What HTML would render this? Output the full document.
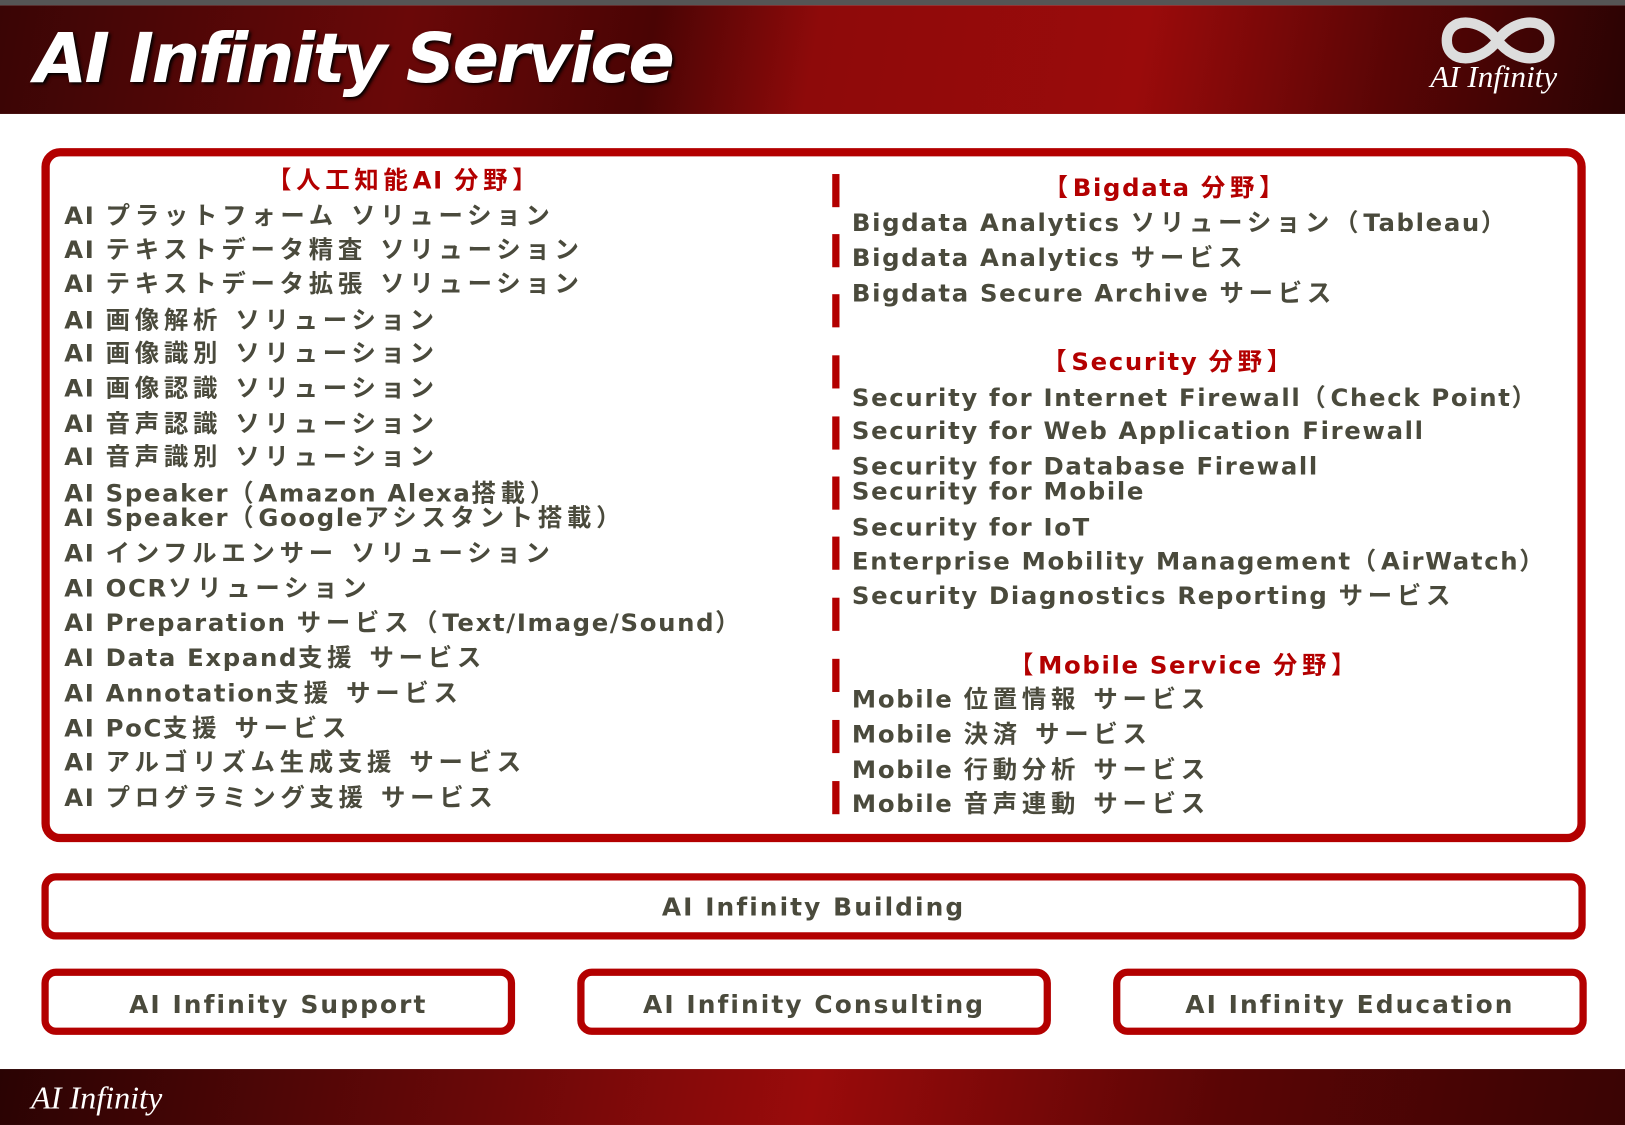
<!DOCTYPE html>
<html><head><meta charset="utf-8">
<style>
html,body{margin:0;padding:0;background:#fff;overflow:hidden}
#w{position:absolute;left:0;top:0;width:1568px;height:1086px;transform:scale(1.0364,1.0359);transform-origin:0 0;font-family:"DejaVu Sans","Noto Sans CJK JP",sans-serif}
.hdr{position:absolute;left:0;top:0;width:1568px;height:110px;background:linear-gradient(100deg,#3a0505 0%,#6a0808 25%,#4a0404 40%,#8e0a0a 50%,#9a0b0b 70%,#5a0505 85%,#2a0303 100%);border-top:5px solid #555;box-sizing:border-box}
.title{position:absolute;left:33px;top:18px;color:#fff;font:italic bold 66px "DejaVu Sans",sans-serif;letter-spacing:-2.5px;text-shadow:2px 2px 3px #000}
.logo{position:absolute;left:1380px;top:58px;color:#fff;font:italic 30px "Liberation Serif",serif}
.ftr{position:absolute;left:0;top:1032px;width:1568px;height:54px;background:linear-gradient(100deg,#2a0303,#6a0808 30%,#9a0b0b 50%,#5a0505 75%,#3a0404)}
.ftr span{position:absolute;left:30px;top:10px;color:#fff;font:italic 31px "Liberation Serif",serif}
.box{position:absolute;border:8px solid #b30000;border-radius:18px;box-sizing:border-box;background:#fff}
.t{position:absolute;white-space:nowrap;font-weight:bold;font-size:23.5px;color:#4a4a3c;letter-spacing:1.6px;line-height:30px;transform:translateY(-15px)}
.t j,.h j{letter-spacing:4.6px}
.h{color:#b30000;text-align:center;transform:translate(-50%,-15px)}
.bar{position:absolute;left:803px;width:7px;height:32px;background:#b30000}
.c{position:absolute;left:0;right:0;text-align:center;font-weight:bold;font-size:24px;color:#4a4a3c;letter-spacing:2px}
</style></head><body><div id="w">
<div class="hdr"></div>
<div class="title">AI Infinity Service</div>
<svg style="position:absolute;left:1388px;top:14px" width="115" height="50" viewBox="0 0 115 50"><path d="M57 25 C40 2 8 2 8 25 C8 48 40 48 57 25 C74 2 107 2 107 25 C107 48 74 48 57 25Z" fill="none" stroke="#ddd" stroke-width="10"/></svg>
<div class="logo">AI Infinity</div>

<div class="box" style="left:40px;top:143px;width:1490px;height:670px"></div>

<div class="t h" style="left:390px;top:174px"><j>【人工知能</j>AI <j>分野】</j></div>
<div class="t" style="left:62px;top:208px">AI <j>プラットフォーム ソリューション</j></div>
<div class="t" style="left:62px;top:241px">AI <j>テキストデータ精査 ソリューション</j></div>
<div class="t" style="left:62px;top:274px">AI <j>テキストデータ拡張 ソリューション</j></div>
<div class="t" style="left:62px;top:309px">AI <j>画像解析 ソリューション</j></div>
<div class="t" style="left:62px;top:341px">AI <j>画像識別 ソリューション</j></div>
<div class="t" style="left:62px;top:375px">AI <j>画像認識 ソリューション</j></div>
<div class="t" style="left:62px;top:409px">AI <j>音声認識 ソリューション</j></div>
<div class="t" style="left:62px;top:441px">AI <j>音声識別 ソリューション</j></div>
<div class="t" style="left:62px;top:476px">AI Speaker<j>（</j>Amazon Alexa<j>搭載）</j></div>
<div class="t" style="left:62px;top:500px">AI Speaker<j>（</j>Google<j>アシスタント搭載）</j></div>
<div class="t" style="left:62px;top:534px">AI <j>インフルエンサー ソリューション</j></div>
<div class="t" style="left:62px;top:568px">AI OCR<j>ソリューション</j></div>
<div class="t" style="left:62px;top:601px">AI Preparation <j>サービス（</j>Text/Image/Sound<j>）</j></div>
<div class="t" style="left:62px;top:635px">AI Data Expand<j>支援 サービス</j></div>
<div class="t" style="left:62px;top:669px">AI Annotation<j>支援 サービス</j></div>
<div class="t" style="left:62px;top:703px">AI PoC<j>支援 サービス</j></div>
<div class="t" style="left:62px;top:736px">AI <j>アルゴリズム生成支援 サービス</j></div>
<div class="t" style="left:62px;top:770px">AI <j>プログラミング支援 サービス</j></div>

<div class="bar" style="top:168px"></div><div class="bar" style="top:226px"></div><div class="bar" style="top:284px"></div><div class="bar" style="top:343px"></div><div class="bar" style="top:402px"></div><div class="bar" style="top:460px"></div><div class="bar" style="top:518px"></div><div class="bar" style="top:577px"></div><div class="bar" style="top:636px"></div><div class="bar" style="top:695px"></div><div class="bar" style="top:754px"></div>

<div class="t h" style="left:1125px;top:181px"><j>【</j>Bigdata <j>分野】</j></div>
<div class="t" style="left:822px;top:215px">Bigdata Analytics <j>ソリューション（</j>Tableau<j>）</j></div>
<div class="t" style="left:822px;top:249px">Bigdata Analytics <j>サービス</j></div>
<div class="t" style="left:822px;top:283px">Bigdata Secure Archive <j>サービス</j></div>
<div class="t h" style="left:1128px;top:349px"><j>【</j>Security <j>分野】</j></div>
<div class="t" style="left:822px;top:384px">Security for Internet Firewall<j>（</j>Check Point<j>）</j></div>
<div class="t" style="left:822px;top:416px">Security for Web Application Firewall</div>
<div class="t" style="left:822px;top:450px">Security for Database Firewall</div>
<div class="t" style="left:822px;top:474px">Security for Mobile</div>
<div class="t" style="left:822px;top:509px">Security for IoT</div>
<div class="t" style="left:822px;top:542px">Enterprise Mobility Management<j>（</j>AirWatch<j>）</j></div>
<div class="t" style="left:822px;top:575px">Security Diagnostics Reporting <j>サービス</j></div>
<div class="t h" style="left:1143px;top:642px"><j>【</j>Mobile Service <j>分野】</j></div>
<div class="t" style="left:822px;top:675px">Mobile <j>位置情報 サービス</j></div>
<div class="t" style="left:822px;top:709px">Mobile <j>決済 サービス</j></div>
<div class="t" style="left:822px;top:743px">Mobile <j>行動分析 サービス</j></div>
<div class="t" style="left:822px;top:776px">Mobile <j>音声連動 サービス</j></div>

<div class="box" style="left:40px;top:843px;width:1490px;height:64px;border-width:7px;border-radius:14px"><div class="c" style="top:12px">AI Infinity Building</div></div>
<div class="box" style="left:40px;top:935px;width:457px;height:64px;border-width:7px;border-radius:14px"><div class="c" style="top:14px">AI Infinity Support</div></div>
<div class="box" style="left:557px;top:935px;width:457px;height:64px;border-width:7px;border-radius:14px"><div class="c" style="top:14px">AI Infinity Consulting</div></div>
<div class="box" style="left:1074px;top:935px;width:457px;height:64px;border-width:7px;border-radius:14px"><div class="c" style="top:14px">AI Infinity Education</div></div>

<div class="ftr"><span>AI Infinity</span></div>
</div></body></html>
